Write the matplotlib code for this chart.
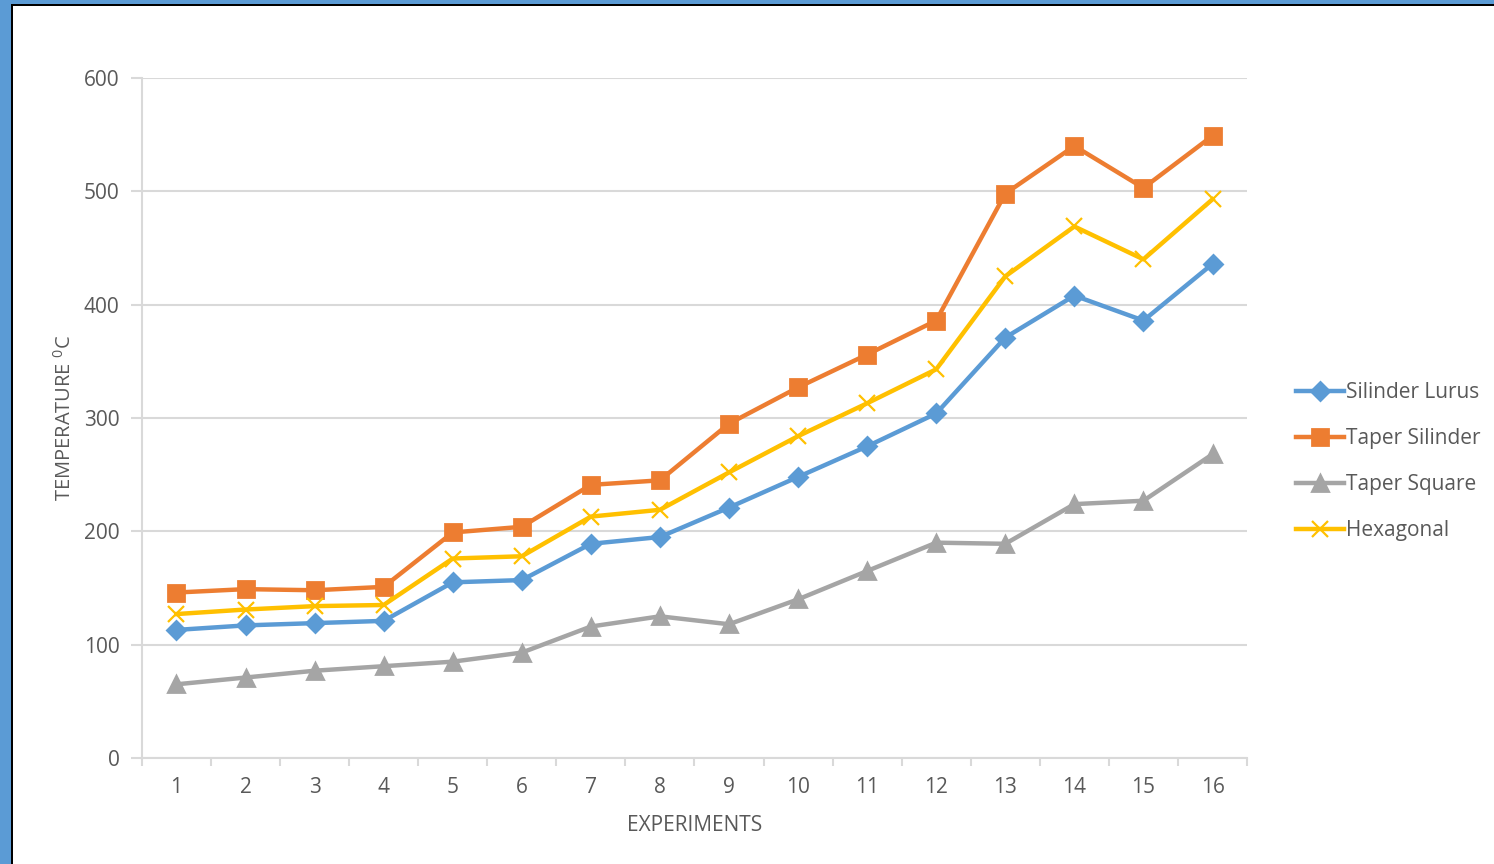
import matplotlib
matplotlib.use("Agg")
import matplotlib.pyplot as plt
from matplotlib.patches import Rectangle
import numpy as np

# Data
experiments = [str(i) for i in range(1, 17)]
silinder_lurus = [113, 117, 119, 121, 155, 157, 189, 195, 221, 248, 275, 304, 371, 408, 386, 436]
taper_silinder = [146, 149, 148, 151, 199, 204, 241, 245, 295, 327, 356, 386, 498, 540, 503, 549]
taper_square = [65, 71, 77, 81, 85, 93, 116, 125, 118, 140, 165, 190, 189, 224, 227, 268]
hexagonal = [127, 131, 134, 135, 176, 178, 213, 219, 252, 284, 313, 343, 425, 469, 440, 493]

series = [
    ("Silinder Lurus", silinder_lurus, "#5B9BD5", "D", 9.5, 2),
    ("Taper Silinder", taper_silinder, "#ED7D31", "s", 12, 2),
    ("Taper Square", taper_square, "#A5A5A5", "^", 11, 2),
    ("Hexagonal", hexagonal, "#FFC000", "x", 12, 1.6),
]

plt.rcParams['font.family'] = ['Open Sans', 'DejaVu Sans']
text_color = "#595959"
grid_color = "#D9D9D9"

fig = plt.figure(figsize=(14.94, 8.64), dpi=100)
ax = fig.add_axes([0.0950, 0.1227, 0.7397, 0.7870])

x = np.arange(len(experiments)) + 0.5
for name, vals, color, marker, ms, mew in series:
    ax.plot(x, vals, color=color, lw=3.2, marker=marker, markersize=ms,
            markeredgewidth=mew, markeredgecolor=color, markerfacecolor=color,
            label=name, solid_joinstyle='round')

ax.set_xlim(0, len(experiments))
ax.set_ylim(0, 600)
ax.set_yticks(range(0, 601, 100))
ax.yaxis.grid(True, color=grid_color, lw=1.5)
ax.set_axisbelow(True)

ax.set_xticks(x)
ax.set_xticklabels(experiments)
ax.set_xticks(np.arange(0, len(experiments) + 1), minor=True)
ax.tick_params(axis='x', which='major', length=0, pad=14, labelsize=15, labelcolor=text_color)
ax.tick_params(axis='x', which='minor', length=6, color=grid_color, width=1.5)
ax.tick_params(axis='y', length=8, color=grid_color, width=1.5, pad=8, labelsize=15, labelcolor=text_color)

for side in ['top', 'right']:
    ax.spines[side].set_visible(False)
for side in ['left', 'bottom']:
    ax.spines[side].set_color(grid_color)
    ax.spines[side].set_linewidth(1.5)

ax.set_xlabel("EXPERIMENTS", fontsize=15, color=text_color, labelpad=12)
ax.set_ylabel(r"TEMPERATURE $^{\mathregular{0}}$C", fontsize=14.5, color=text_color, labelpad=6)

leg = fig.legend(loc='center left', bbox_to_anchor=(0.855, 0.466), frameon=False,
                 fontsize=15, handlelength=2.3, labelspacing=1.2, handletextpad=0.1,
                 labelcolor=text_color)

# blue frame on left and top edge
fig.add_artist(Rectangle((0, 0), 11 / 1494, 1, transform=fig.transFigure, color="#5B9BD5", lw=0))
fig.add_artist(Rectangle((11 / 1494, 0), 2 / 1494, 1 - 4 / 864, transform=fig.transFigure, color="black", lw=0))
fig.add_artist(Rectangle((0, 1 - 4 / 864), 1, 4 / 864, transform=fig.transFigure, color="#5B9BD5", lw=0))
fig.add_artist(Rectangle((11 / 1494, 1 - 6 / 864), 1, 2 / 864, transform=fig.transFigure, color="black", lw=0))

fig.savefig("out.png", dpi=100)
plt.close(fig)
